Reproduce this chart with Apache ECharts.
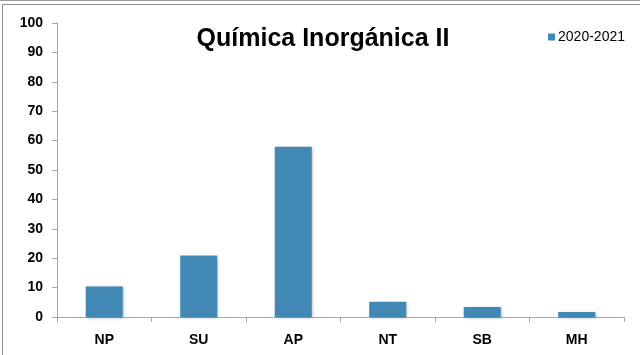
<!DOCTYPE html>
<html>
<head>
<meta charset="utf-8">
<script src="https://cdn.jsdelivr.net/npm/echarts@6/dist/echarts.min.js"></script>
<style>
  html, body { margin: 0; padding: 0; background: #fff; }
  #chart { width: 640px; height: 355px; }
</style>
</head>
<body>
<div id="chart"></div>
<script>
// Chart data
const titleText = 'Química Inorgánica II';
const seriesName = '2020-2021';
const categories = ['NP', 'SU', 'AP', 'NT', 'SB', 'MH'];
const values = [10.4, 20.9, 57.9, 5.2, 3.4, 1.7];
const yTicks = [0, 10, 20, 30, 40, 50, 60, 70, 80, 90, 100];

const barColor = '#4189b4';
const axisColor = '#a6a6a6';
const font = '"Liberation Sans", Arial, sans-serif';

const chart = echarts.init(document.getElementById('chart'));
chart.setOption({
  animation: false,
  backgroundColor: '#ffffff',
  graphic: [
    // outer frame
    { type: 'line', shape: { x1: 0, y1: 0.5, x2: 640, y2: 0.5 }, style: { stroke: '#9a9a9a', lineWidth: 1 } },
    { type: 'polyline', shape: { points: [[2.5, 360], [2.5, 4.5], [645, 4.5]] }, style: { stroke: '#8c8c8c', lineWidth: 1, fill: null } }
  ],
  title: {
    text: titleText,
    left: 318,
    textAlign: 'center',
    top: 22,
    textStyle: { fontFamily: font, fontSize: 25, fontWeight: 'bold', color: '#000' }
  },
  legend: {
    data: [seriesName],
    right: 10,
    top: 25,
    icon: 'rect',
    itemWidth: 7,
    itemHeight: 7,
    itemGap: 5,
    textStyle: { fontFamily: font, fontSize: 14, color: '#000', padding: [0, 0, 0, -2] }
  },
  grid: { left: 57, right: 16, top: 23, bottom: 38, containLabel: false },
  xAxis: {
    type: 'category',
    data: categories,
    axisLine: { lineStyle: { color: axisColor, width: 1 } },
    axisTick: { show: true, length: 5, lineStyle: { color: axisColor } },
    axisLabel: { fontFamily: font, fontSize: 14, fontWeight: 'bold', color: '#000', margin: 16 }
  },
  yAxis: {
    type: 'value',
    min: yTicks[0],
    max: yTicks[yTicks.length - 1],
    interval: yTicks[1] - yTicks[0],
    axisLine: { show: true, lineStyle: { color: axisColor, width: 1 } },
    axisTick: { show: true, length: 5, lineStyle: { color: axisColor } },
    splitLine: { show: false },
    axisLabel: { fontFamily: font, fontSize: 14, fontWeight: 'bold', color: '#000', margin: 14 }
  },
  series: [{
    name: seriesName,
    type: 'bar',
    data: values,
    barWidth: 37,
    itemStyle: {
      color: barColor,
      shadowColor: 'rgba(0,0,0,0.3)',
      shadowBlur: 3,
      shadowOffsetX: 1,
      shadowOffsetY: 1
    }
  }]
});
</script>
</body>
</html>
